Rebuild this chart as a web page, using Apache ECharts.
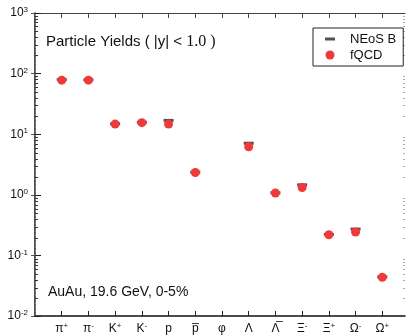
<!DOCTYPE html>
<html>
<head>
<meta charset="utf-8">
<script src="https://cdn.jsdelivr.net/npm/echarts@6/dist/echarts.min.js"></script>
<style>
  html, body { margin: 0; padding: 0; background: #fff; }
  #chart { width: 408px; height: 335px; }
</style>
</head>
<body>
<div id="chart"></div>
<script>
// particle species (x positions 1..13)
const particles = ['π+', 'π-', 'K+', 'K-', 'p', 'pbar', 'φ', 'Λ', 'Λbar', 'Ξ-', 'Ξ+', 'Ω-', 'Ω+'];
// yields (null = no point)
const fqcd  = [78, 78, 14.7, 15.5, 14.7, 2.33, null, 6.2, 1.07, 1.32, 0.219, 0.243, 0.0435];
const neosB = [80, 79, 14.9, 15.7, 16.9, 2.36, null, 7.1, 1.08, 1.46, 0.222, 0.272, 0.0442];
const yTicks = [0.01, 0.1, 1, 10, 100, 1000];
// minor ticks 2..9 per decade
const yMinor = [];
yTicks.slice(0, -1).forEach(d => { for (let k = 2; k <= 9; k++) yMinor.push(+(d * k).toPrecision(3)); });

const xPos = particles.map((p, i) => i + 1);

const toPoints = arr => arr.map((v, i) => v == null ? null : [i + 1, v]).filter(p => p);

const labelRich = {
  b: { fontSize: 12, fontFamily: 'Liberation Sans', color: '#111', lineHeight: 14 },
  s: { fontSize: 8, fontFamily: 'Liberation Sans', color: '#111', lineHeight: 8, verticalAlign: 'top' }
};

function particleLabel(name) {
  if (name.endsWith('bar')) return '{b|' + name.replace('bar', '') + '\u0305}';
  const last = name.slice(-1);
  if (last === '+' || last === '-') return '{b|' + name.slice(0, -1) + '}{s|' + last + '}';
  return '{b|' + name + '}';
}

const chart = echarts.init(document.getElementById('chart'));

const gridBox = { left: 35, right: 3, top: 13, bottom: 18 };
const xBase = { type: 'value', min: 0, max: 13.85, splitLine: { show: false } };
const yBase = { type: 'log', logBase: 10, min: 0.01, max: 1000, splitLine: { show: false } };

chart.setOption({
  animation: false,
  // second grid on top of the first, only used for the minor ticks
  grid: [Object.assign({}, gridBox), Object.assign({}, gridBox)],
  title: [
    {
      text: '{a|Particle Yields ( |y| < }{c|1.0 )}',
      left: 46, top: 34, padding: 0,
      textStyle: {
        rich: {
          a: { fontSize: 15, fontWeight: 'normal', fontFamily: 'Liberation Sans', color: '#111' },
          c: { fontSize: 16, fontWeight: 'normal', fontFamily: 'Liberation Serif', color: '#111' }
        }
      }
    },
    {
      text: 'AuAu, 19.6 GeV, 0-5%',
      left: 48, top: 285, padding: 0,
      textStyle: { fontSize: 14, fontWeight: 'normal', fontFamily: 'Liberation Sans', color: '#111' }
    }
  ],
  legend: {
    orient: 'vertical', left: 313, top: 28, align: 'left',
    padding: [4, 7, 4, 12], itemGap: 2,
    itemWidth: 10, itemHeight: 9,
    borderColor: '#222', borderWidth: 1, borderRadius: 0,
    textStyle: { fontSize: 13, fontFamily: 'Liberation Sans', color: '#111', lineHeight: 14, padding: [0, 0, 0, 10] },
    data: [
      { name: 'NEoS B', icon: 'path://M0,0H10V3H0Z' },
      { name: 'fQCD', icon: 'circle' }
    ]
  },
  xAxis: [
    Object.assign({}, xBase, {
      gridIndex: 0, position: 'bottom',
      axisLine: { lineStyle: { color: '#111', width: 1.5 } },
      axisTick: { inside: true, length: 5, customValues: xPos, lineStyle: { color: '#222' } },
      axisLabel: {
        customValues: xPos, margin: 6,
        formatter: v => particleLabel(particles[Math.round(v) - 1]),
        rich: labelRich
      }
    }),
    Object.assign({}, xBase, {
      gridIndex: 0, position: 'top',
      axisLine: { lineStyle: { color: '#444', width: 1 } },
      axisTick: { inside: true, length: 5, customValues: xPos, lineStyle: { color: '#444' } },
      axisLabel: { show: false }
    }),
    Object.assign({}, xBase, {
      gridIndex: 1, show: false
    })
  ],
  yAxis: [
    Object.assign({}, yBase, {
      gridIndex: 0, position: 'left',
      axisLine: { lineStyle: { color: '#111', width: 1.5 } },
      axisTick: { inside: true, length: 6, customValues: yTicks, lineStyle: { color: '#222' } },
      axisLabel: {
        customValues: yTicks, margin: 7,
        formatter: v => '{b|10}{s|' + Math.round(Math.log10(v)) + '}',
        rich: labelRich
      }
    }),
    Object.assign({}, yBase, {
      gridIndex: 0, position: 'right',
      axisLine: { lineStyle: { color: '#888', width: 1, type: [2, 2] } },
      axisTick: { inside: true, length: 4, customValues: yTicks, lineStyle: { color: '#555' } },
      axisLabel: { show: false }
    }),
    Object.assign({}, yBase, {
      gridIndex: 1, position: 'left',
      axisLine: { show: false },
      axisTick: { inside: true, length: 3, customValues: yMinor, lineStyle: { color: '#333' } },
      axisLabel: { show: false }
    }),
    Object.assign({}, yBase, {
      gridIndex: 1, position: 'right',
      axisLine: { show: false },
      axisTick: { inside: true, length: 2, customValues: yMinor, lineStyle: { color: '#aaa' } },
      axisLabel: { show: false }
    })
  ],
  series: [
    {
      name: 'NEoS B', type: 'scatter',
      xAxisIndex: 0, yAxisIndex: 0,
      symbol: 'rect', symbolSize: [10, 3],
      itemStyle: { color: '#505050', opacity: 1 },
      data: toPoints(neosB), z: 2
    },
    {
      name: 'fQCD', type: 'scatter',
      xAxisIndex: 0, yAxisIndex: 0,
      symbol: 'circle', symbolSize: 9,
      itemStyle: { color: '#f03a3a', opacity: 1 },
      data: toPoints(fqcd), z: 3
    }
  ]
});
</script>
</body>
</html>
